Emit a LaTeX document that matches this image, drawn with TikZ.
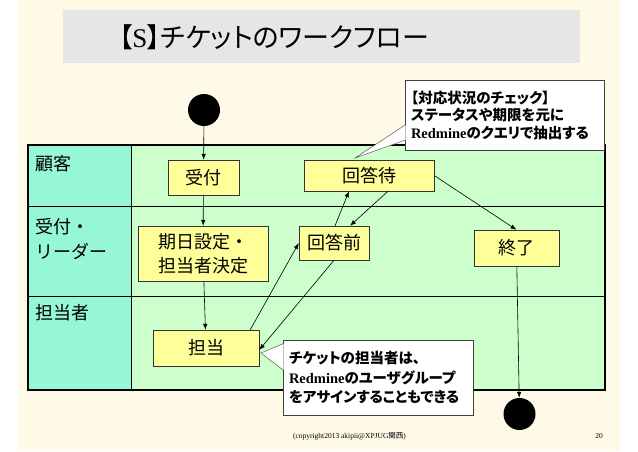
\documentclass[tikz,border=0pt]{standalone}
\usepackage{fontspec}
\usepackage{tikz}
\usetikzlibrary{calc,arrows.meta}
\setmainfont{Noto Sans CJK JP}
\newfontfamily\jpp[RawFeature=+palt]{Noto Sans CJK JP}
\newfontfamily\rom{Liberation Serif}
\definecolor{cream}{HTML}{FFFAE8}
\definecolor{titlegray}{HTML}{E6E6E6}
\definecolor{lanehead}{HTML}{96F7D4}
\definecolor{lanebody}{HTML}{CCFFCC}
\definecolor{stateyellow}{HTML}{FFFF99}
\definecolor{notegray}{HTML}{404040}

\begin{document}
\begin{tikzpicture}[x=1pt,y=-1pt,>={Latex[length=6pt,width=4.5pt]},
		statebox/.style={rectangle,draw=black!80,fill=stateyellow,inner sep=0pt,
			align=center,font=\fontsize{18}{24}\selectfont},
		blackdot/.style={circle,fill=black,minimum size=32pt,inner sep=0pt},
		notebox/.style={rectangle,draw=notegray,fill=white,inner xsep=6pt,inner ysep=0pt,align=left},
		lanelabel/.style={anchor=west,inner sep=0pt,align=left,font=\fontsize{18}{25}\selectfont},
		flow/.style={->,line width=0.6pt}
		]
		\useasboundingbox (0,0) rectangle (638,451);
		\fill[white] (0,0) rectangle (638,451);
		\fill[cream] (18,0) rectangle (620,451);
		\fill[titlegray] (63,10) rectangle (580,63);
		\node[font=\jpp\fontsize{27}{27}\selectfont] (T0) at (274,37) {【{\rom S}】チケットのワークフロー};
		
		\fill[lanehead] (28,145) rectangle (131,390);
		\fill[lanebody] (131,145) rectangle (605,390);
		\foreach \y in {206,296}
		\draw[line width=0.6pt] (28,\y) -- (605,\y);
		\draw[line width=0.6pt] (131,145) -- (131,390);
		\draw[line width=1.2pt] (28,145) rectangle (605,390);
		
		\node[lanelabel] (L1) at (35,164) {顧客};
		\node[lanelabel] (L2) at (35,239.5) {受付・\\リーダー};
		\node[lanelabel] (L3) at (35,313) {担当者};
		
		\node[blackdot] (S0) at (204,110) {};
		\node[statebox, minimum width=71pt, minimum height=35pt] (S1) at (203.5,177.5) {受付};
		\node[statebox, minimum width=130pt, minimum height=31pt] (S2) at (369,175.5) {回答待};
		\node[statebox, minimum width=130pt, minimum height=55pt] (S3) at (203,253.5) {期日設定・\\担当者決定};
		\node[statebox, minimum width=70pt, minimum height=34pt] (S4) at (334,243) {回答前};
		\node[statebox, minimum width=85pt, minimum height=36pt] (S5) at (516.5,248) {終了};
		\node[statebox, minimum width=106pt, minimum height=36pt] (S6) at (206,348) {担当};
		\node[blackdot] (S7) at (519.5,414) {};
		
		\draw[flow] (S0) -- (S1);
		\draw[flow] (S1) -- (S3);
		\draw[flow] (S3) -- (S6);
		\draw[flow] ([xshift=-9pt]S6.north east) -- (S4.west);
		\draw[flow] ([xshift=1pt]S4.north) -- ([xshift=-20pt]S2.south);
		\draw[flow] ([xshift=19pt]S2.south) -- ([xshift=16pt]S4.north);
		\draw[flow] (S4.south) -- ([yshift=-2pt]S6.east);
		\draw[flow] (S2.east) -- (S5.north);
		\draw[flow] (S5) -- (S7);
		
		\node[notebox, text width=187pt, minimum height=70pt,
		font=\jpp\bfseries\fontsize{14.5}{17.5}\selectfont] (N1) at (504.5,115)
		{【対応状況のチェック】\\ステータスや期限を元に\\{\rom Redmine}のクエリで抽出する};
		\coordinate (P1) at (355,158);
		\fill[white] ($(N1.south west)+(0.8,-10)$) -- (P1) -- ($(N1.south west)+(0.8,-25)$) -- cycle;
		\draw[notegray] ($(N1.south west)+(0,-10)$) -- (P1) -- ($(N1.south west)+(0,-25)$);
		
		\node[notebox, text width=178pt, minimum height=75pt,
		font=\jpp\bfseries\fontsize{14.5}{19.5}\selectfont] (N2) at (378,377.5)
		{チケットの担当者は、\\{\rom Redmine}のユーザグループ\\をアサインすることもできる};
		\coordinate (P2) at (261,353);
		\fill[white] ($(N2.north west)+(0.8,4)$) -- (P2) -- ($(N2.north west)+(0.8,30)$) -- cycle;
		\draw[notegray] ($(N2.north west)+(0,4)$) -- (P2) -- ($(N2.north west)+(0,30)$);
		
		\node[font=\rom\fontsize{7.5}{8}\selectfont] (F1) at (349.5,436) {(copyright2013 akipii@XPJUG{\rmfamily 関西})};
		\node[font=\rom\fontsize{7.5}{8}\selectfont] (F2) at (599,436) {20};
	\end{tikzpicture}
\end{document}
